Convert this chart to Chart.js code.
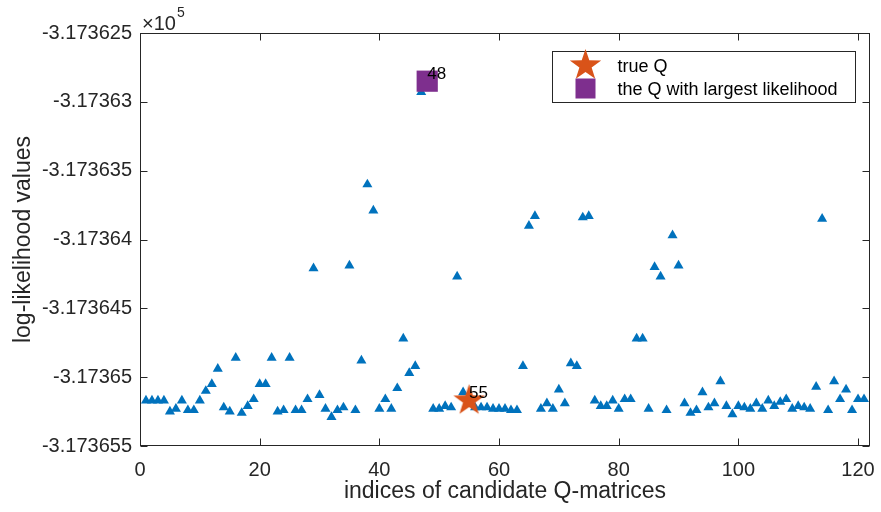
<!DOCTYPE html>
<html>
<head>
<meta charset="utf-8">
<title>Log-likelihood of candidate Q-matrices</title>
<script src="https://cdn.jsdelivr.net/npm/chart.js@4.4.0/dist/chart.umd.min.js"></script>
<style>
  html, body { margin: 0; padding: 0; background: #fff; }
  #wrap { width: 881px; height: 512px; }
</style>
</head>
<body>
<div id="wrap"><canvas id="llChart" width="881" height="512"></canvas></div>
<script>
// indices of the candidate Q-matrices
const candidateIdx = [
  1, 2, 3, 4, 5, 6, 7, 8, 9, 10, 11, 12, 13, 14, 15, 16, 17, 18, 19, 20,
  21, 22, 23, 24, 25, 26, 27, 28, 29, 30, 31, 32, 33, 34, 35, 36, 37, 38, 39, 40,
  41, 42, 43, 44, 45, 46, 47, 48, 49, 50, 51, 52, 53, 54, 55, 56, 57, 58, 59, 60,
  61, 62, 63, 64, 65, 66, 67, 68, 69, 70, 71, 72, 73, 74, 75, 76, 77, 78, 79, 80,
  81, 82, 83, 84, 85, 86, 87, 88, 89, 90, 91, 92, 93, 94, 95, 96, 97, 98, 99, 100,
  101, 102, 103, 104, 105, 106, 107, 108, 109, 110, 111, 112, 113, 114, 115, 116, 117, 118, 119, 120,
  121
];
// log-likelihood of each candidate
const logLik = [
  -317365.17, -317365.17, -317365.17, -317365.17, -317365.25, -317365.23, -317365.17, -317365.24, -317365.24, -317365.17,
  -317365.10, -317365.05, -317364.94, -317365.22, -317365.25, -317364.86, -317365.26, -317365.21, -317365.16, -317365.05,
  -317365.05, -317364.86, -317365.25, -317365.24, -317364.86, -317365.24, -317365.24, -317365.16, -317364.21, -317365.13,
  -317365.23, -317365.29, -317365.24, -317365.22, -317364.19, -317365.24, -317364.88, -317363.60, -317363.79, -317365.23,
  -317365.16, -317365.23, -317365.08, -317364.72, -317364.97, -317364.92, -317362.93, -317362.85, -317365.23, -317365.23,
  -317365.21, -317365.22, -317364.27, -317365.11, -317365.17, -317365.22, -317365.22, -317365.22, -317365.23, -317365.23,
  -317365.23, -317365.24, -317365.24, -317364.92, -317363.90, -317363.83, -317365.23, -317365.19, -317365.23, -317365.09,
  -317365.19, -317364.90, -317364.92, -317363.84, -317363.83, -317365.17, -317365.21, -317365.21, -317365.17, -317365.23,
  -317365.16, -317365.16, -317364.72, -317364.72, -317365.23, -317364.20, -317364.27, -317365.24, -317363.97, -317364.19,
  -317365.19, -317365.26, -317365.24, -317365.11, -317365.22, -317365.19, -317365.03, -317365.21, -317365.27, -317365.21,
  -317365.22, -317365.23, -317365.19, -317365.23, -317365.17, -317365.21, -317365.18, -317365.16, -317365.23, -317365.21,
  -317365.22, -317365.23, -317365.07, -317363.85, -317365.24, -317365.03, -317365.16, -317365.09, -317365.24, -317365.16,
  -317365.16
];
const trueIdx = [55];
const trueLik = [-317365.17];
const bestIdx = [48];
const bestLik = [-317362.85];
const legendLabels = ['true Q', 'the Q with largest likelihood'];
const xRange = [0, 122];
const yRange = [-317365.5, -317362.5];

const fontFam = '"Liberation Sans", Arial, Helvetica, sans-serif';
const axisCol = '#262626';
const blue = '#0072BD', orange = '#D95319', purple = '#7E2F8E';

function makeStar(R, color) {
  const size = Math.ceil(R * 2) + 2;
  const c = document.createElement('canvas');
  c.width = size; c.height = size;
  const g = c.getContext('2d');
  const cx = size / 2, cy = size / 2, r = R * 0.39;
  g.beginPath();
  for (let k = 0; k < 10; k++) {
    const rad = k % 2 ? r : R;
    const a = -Math.PI / 2 + k * Math.PI / 5;
    const px = cx + rad * Math.cos(a), py = cy + rad * Math.sin(a);
    if (k) g.lineTo(px, py); else g.moveTo(px, py);
  }
  g.closePath();
  g.fillStyle = color;
  g.fill();
  return c;
}
const starImg = makeStar(16.5, orange);

// inward ticks + box like matlab
const axesBox = {
  id: 'axesBox',
  beforeDatasetsDraw(chart) {
    const {ctx, chartArea: a, scales: {x, y}} = chart;
    const L = Math.round(a.left) + 0.5, R = Math.round(a.right) - 0.5;
    const T = Math.round(a.top) + 0.5, B = Math.round(a.bottom) - 0.5;
    ctx.save();
    ctx.strokeStyle = axisCol;
    ctx.lineWidth = 1;
    ctx.beginPath();
    x.ticks.forEach(t => {
      const px = Math.round(x.getPixelForValue(t.value)) + 0.5;
      ctx.moveTo(px, B); ctx.lineTo(px, B - 7);
      ctx.moveTo(px, T); ctx.lineTo(px, T + 7);
    });
    y.ticks.forEach(t => {
      const py = Math.round(y.getPixelForValue(t.value)) + 0.5;
      ctx.moveTo(L, py); ctx.lineTo(L + 7, py);
      ctx.moveTo(R, py); ctx.lineTo(R - 7, py);
    });
    ctx.stroke();
    ctx.strokeRect(L, T, R - L, B - T);
    ctx.restore();
  },
  afterDatasetsDraw(chart) {
    const {ctx, chartArea: a, scales: {x, y}} = chart;
    ctx.save();
    // point labels
    ctx.fillStyle = '#000';
    ctx.font = '17px ' + fontFam;
    ctx.textAlign = 'left';
    ctx.textBaseline = 'middle';
    bestIdx.forEach((v, i) => ctx.fillText(String(v), x.getPixelForValue(v), y.getPixelForValue(bestLik[i]) - 7));
    trueIdx.forEach((v, i) => ctx.fillText(String(v), x.getPixelForValue(v), y.getPixelForValue(trueLik[i]) - 7));

    // legend
    const bw = 303, bh = 51;
    const bx = Math.round(a.right - 15 - bw) + 0.5, by = Math.round(a.top + 18) + 0.5;
    ctx.fillStyle = '#fff';
    ctx.fillRect(bx, by, bw, bh);
    ctx.strokeStyle = axisCol;
    ctx.lineWidth = 1;
    ctx.strokeRect(bx, by, bw, bh);
    const mx = bx + 33;
    ctx.drawImage(starImg, mx - starImg.width / 2, by + 14 - starImg.height / 2);
    ctx.fillStyle = purple;
    ctx.fillRect(mx - 10, by + 37 - 10, 20, 20);
    ctx.fillStyle = '#000';
    ctx.font = '18px ' + fontFam;
    ctx.fillText(legendLabels[0], bx + 65, by + 16);
    ctx.fillText(legendLabels[1], bx + 65, by + 38.5);

    // exponent label
    ctx.fillStyle = axisCol;
    ctx.textBaseline = 'alphabetic';
    ctx.font = '20px ' + fontFam;
    ctx.fillText('\u00d710', a.left + 2, a.top - 3);
    const w = ctx.measureText('\u00d710').width;
    ctx.font = '14px ' + fontFam;
    ctx.fillText('5', a.left + 3 + w, a.top - 16);
    ctx.restore();
  }
};

const options = {
  type: 'scatter',
  data: {
    datasets: [
      {
        label: legendLabels[0],
        data: trueIdx.map((v, i) => ({x: v, y: trueLik[i]})),
        pointStyle: starImg,
        pointRadius: 16,
        order: 0
      },
      {
        label: legendLabels[1],
        data: bestIdx.map((v, i) => ({x: v, y: bestLik[i]})),
        pointStyle: 'rect',
        pointRadius: 15,
        backgroundColor: purple,
        borderWidth: 0,
        order: 1
      },
      {
        label: 'candidates',
        data: candidateIdx.map((v, i) => ({x: v, y: logLik[i]})),
        pointStyle: 'triangle',
        pointRadius: 5.8,
        backgroundColor: blue,
        borderWidth: 0,
        order: 2
      }
    ]
  },
  options: {
    responsive: false,
    animation: false,
    events: [],
    layout: {autoPadding: false, padding: {left: 0, right: 11, top: 33, bottom: 0}},
    plugins: {legend: {display: false}, tooltip: {enabled: false}},
    scales: {
      x: {
        type: 'linear',
        min: xRange[0],
        max: xRange[1],
        grid: {display: false, drawTicks: false},
        border: {display: false},
        ticks: {stepSize: 20, includeBounds: false, padding: 12, maxRotation: 0, color: axisCol,
                font: {family: fontFam, size: 20}},
        title: {display: true, text: 'indices of candidate Q-matrices', color: axisCol,
                font: {family: fontFam, size: 23}, padding: {top: 0, bottom: 7}},
        afterFit(s) { s.height = 66; s.paddingLeft = 0; s.paddingRight = 0; }
      },
      y: {
        type: 'linear',
        min: yRange[0],
        max: yRange[1],
        grid: {display: false, drawTicks: false},
        border: {display: false},
        ticks: {stepSize: 0.5, includeBounds: false, padding: 8, color: axisCol,
                font: {family: fontFam, size: 20},
                callback: v => String(parseFloat((v / 1e5).toFixed(7)))},
        title: {display: true, text: 'log-likelihood values', color: axisCol,
                font: {family: fontFam, size: 23}, padding: {top: 10, bottom: 0}},
        afterFit(s) { s.width = 140; s.paddingTop = 0; s.paddingBottom = 0; }
      }
    }
  },
  plugins: [axesBox]
};

const ctx = document.getElementById('llChart').getContext('2d');
const llChart = new Chart(ctx, options);
</script>
</body>
</html>
